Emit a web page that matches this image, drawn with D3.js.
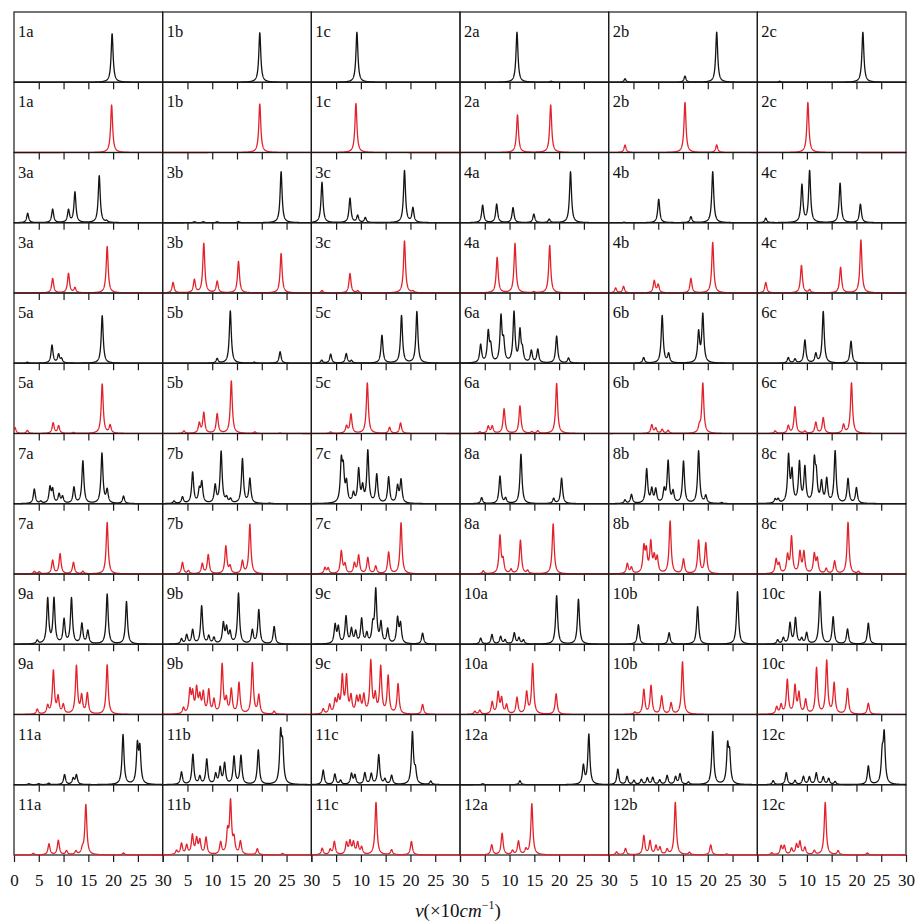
<!DOCTYPE html>
<html><head><meta charset="utf-8">
<script src="https://cdn.jsdelivr.net/npm/d3@7/dist/d3.min.js"></script>
<style>
html,body{margin:0;padding:0;background:#fff;}
svg{display:block;}
</style></head>
<body>
<svg id="chart" width="917" height="922"></svg>
<script>
// Panel labels, in grid reading order (6 columns x 6 row-pairs)
const panelLabels = ["1a","1b","1c","2a","2b","2c","3a","3b","3c","4a","4b","4c",
  "5a","5b","5c","6a","6b","6c","7a","7b","7c","8a","8b","8c",
  "9a","9b","9c","10a","10b","10c","11a","11b","11c","12a","12b","12c"];

// Peaks [position (x10 cm^-1), relative intensity] for the black (upper) spectra
const blackPeaks = [
 [[19.8,0.97]],
 [[19.6,0.99]],
 [[9.2,1.0]],
 [[11.5,1.0],[18.4,0.02]],
 [[3.3,0.07],[15.4,0.12],[21.8,1.0]],
 [[4.5,0.02],[21.3,1.0]],
 [[2.76,0.19],[7.8,0.27],[11.0,0.25],[12.3,0.61],[17.2,0.94],[18.7,0.03]],
 [[6.4,0.02],[8.2,0.02],[11.0,0.02],[15.3,0.02],[23.9,1.02]],
 [[2.15,0.81],[7.8,0.49],[9.35,0.14],[10.9,0.1],[18.8,1.04],[20.5,0.29]],
 [[4.57,0.35],[7.4,0.37],[10.7,0.3],[14.9,0.17],[18.0,0.07],[22.3,1.02]],
 [[3.1,0.01],[10.1,0.47],[16.6,0.12],[21.0,1.02]],
 [[1.7,0.09],[9.0,0.75],[10.55,1.03],[16.7,0.79],[20.8,0.37]],
 [[2.7,0.02],[7.67,0.36],[9.0,0.17],[9.6,0.08],[17.8,0.95]],
 [[11.0,0.09],[13.65,1.05],[18.5,0.02],[23.7,0.23]],
 [[2.1,0.06],[3.9,0.18],[7.05,0.19],[8.1,0.05],[14.25,0.56],[18.2,0.95],[21.3,1.03]],
 [[4.17,0.36],[5.7,0.6],[6.2,0.3],[8.27,0.9],[8.8,0.38],[10.9,1.0],[12.1,0.62],[12.6,0.22],[14.4,0.24],[15.7,0.27],[19.5,0.54],[21.9,0.1]],
 [[7.06,0.11],[10.8,0.95],[12.1,0.18],[18.15,0.6],[19.0,0.96]],
 [[6.25,0.11],[7.6,0.08],[9.6,0.46],[11.8,0.18],[13.3,1.03],[18.9,0.44]],
 [[4.1,0.29],[5.4,0.04],[7.26,0.31],[7.8,0.26],[9.1,0.18],[9.8,0.13],[12.1,0.32],[13.9,0.85],[17.75,1.0],[18.8,0.26],[22.1,0.15]],
 [[2.3,0.05],[4.0,0.13],[6.05,0.62],[7.4,0.25],[7.9,0.4],[10.6,0.35],[11.8,1.03],[12.9,0.1],[13.7,0.08],[16.1,0.89],[17.6,0.49],[21.6,0.01]],
 [[6.05,0.78],[6.45,0.6],[7.1,0.38],[8.5,0.18],[9.55,0.66],[10.35,0.3],[11.4,1.04],[13.2,0.57],[15.6,0.52],[17.4,0.33],[18.1,0.46]],
 [[4.37,0.12],[8.07,0.55],[9.2,0.1],[12.3,0.99],[18.9,0.1],[20.5,0.51]],
 [[3.3,0.07],[4.6,0.18],[7.67,0.68],[8.7,0.27],[9.5,0.27],[11.2,0.25],[12.0,0.83],[13.0,0.22],[15.1,0.84],[18.15,1.05],[19.6,0.15],[22.8,0.02]],
 [[3.6,0.08],[4.2,0.08],[6.3,0.93],[7.0,0.6],[8.5,0.8],[9.6,0.7],[11.5,0.8],[11.9,0.5],[12.95,0.4],[14.0,0.47],[15.7,1.04],[18.3,0.49],[20.0,0.31]],
 [[4.7,0.07],[6.8,0.9],[8.07,0.9],[10.1,0.48],[11.6,0.91],[13.7,0.4],[14.9,0.26],[18.8,1.0],[22.7,0.85]],
 [[3.8,0.1],[4.85,0.18],[6.05,0.28],[7.87,0.76],[9.3,0.15],[10.35,0.12],[12.25,0.4],[12.9,0.3],[13.6,0.22],[15.3,1.01],[18.1,0.27],[19.4,0.68],[22.5,0.35]],
 [[4.8,0.37],[5.45,0.32],[7.0,0.54],[8.1,0.28],[8.95,0.23],[10.15,0.49],[11.2,0.19],[12.4,0.33],[13.0,1.05],[14.05,0.4],[15.4,0.29],[17.4,0.5],[18.0,0.38],[22.45,0.22]],
 [[4.17,0.12],[6.45,0.19],[8.2,0.15],[9.1,0.08],[10.96,0.22],[11.9,0.12],[12.8,0.08],[19.5,0.97],[23.9,0.9]],
 [[6.0,0.39],[12.2,0.23],[17.95,0.75],[26.0,1.05]],
 [[4.1,0.08],[5.25,0.12],[6.6,0.41],[7.7,0.51],[8.95,0.1],[9.95,0.22],[12.65,1.05],[15.3,0.54],[18.2,0.3],[22.4,0.42]],
 [[3.0,0.02],[5.0,0.02],[7.0,0.03],[10.2,0.2],[11.95,0.12],[12.6,0.19],[22.0,1.0],[24.9,0.75],[25.4,0.68]],
 [[3.8,0.25],[6.1,0.6],[7.5,0.15],[8.9,0.5],[10.7,0.2],[11.6,0.32],[12.5,0.41],[14.4,0.55],[15.8,0.57],[19.3,0.69],[23.8,0.95],[24.2,0.7]],
 [[2.4,0.29],[4.75,0.21],[5.9,0.08],[8.1,0.21],[8.8,0.18],[10.8,0.23],[12.1,0.21],[13.6,0.59],[14.85,0.1],[16.2,0.18],[20.4,1.03],[21.0,0.25],[24.1,0.07]],
 [[4.6,0.02],[12.1,0.08],[24.9,0.37],[26.0,1.0]],
 [[1.85,0.31],[3.7,0.16],[5.1,0.08],[6.6,0.1],[7.8,0.13],[8.9,0.14],[10.3,0.09],[11.8,0.18],[13.5,0.15],[14.4,0.21],[16.1,0.05],[21.0,1.06],[24.0,0.72],[24.4,0.55]],
 [[3.2,0.08],[5.85,0.24],[7.6,0.08],[9.3,0.16],[10.5,0.15],[11.9,0.23],[13.3,0.15],[14.4,0.12],[15.7,0.06],[22.4,0.37],[25.2,0.55],[25.6,0.95]]
];

// Peaks for the red (lower) spectra
const redPeaks = [
 [[19.7,0.95]],
 [[19.6,0.97]],
 [[9.0,0.98]],
 [[11.6,0.75],[18.3,0.95]],
 [[3.3,0.15],[15.4,1.0],[21.8,0.15]],
 [[10.2,1.0]],
 [[7.8,0.29],[11.0,0.39],[12.3,0.1],[18.8,0.93]],
 [[2.1,0.21],[6.4,0.26],[8.3,0.99],[11.0,0.23],[15.3,0.63],[23.9,0.79]],
 [[2.15,0.05],[7.8,0.39],[9.35,0.04],[18.8,1.04],[20.5,0.03]],
 [[7.5,0.71],[11.1,0.99],[14.9,0.02],[18.1,0.95]],
 [[1.4,0.1],[3.0,0.13],[9.2,0.24],[10.0,0.16],[16.6,0.29],[21.0,1.01]],
 [[1.7,0.21],[8.9,0.55],[10.55,0.06],[16.8,0.51],[20.9,1.06]],
 [[0.2,0.12],[2.7,0.06],[7.9,0.21],[9.0,0.15],[12.0,0.02],[17.8,0.99],[19.4,0.16]],
 [[4.3,0.05],[7.4,0.2],[8.3,0.41],[11.0,0.39],[13.85,1.05],[18.6,0.03],[23.7,0.01]],
 [[3.9,0.03],[7.1,0.14],[8.0,0.38],[11.3,1.01],[15.8,0.12],[18.0,0.21]],
 [[4.0,0.03],[5.7,0.14],[6.5,0.14],[8.9,0.49],[12.1,0.55],[14.5,0.03],[15.7,0.05],[19.5,1.0]],
 [[8.7,0.17],[9.5,0.1],[10.8,0.08],[12.0,0.06],[18.3,0.12],[19.0,1.0]],
 [[3.6,0.05],[6.25,0.15],[7.6,0.53],[9.6,0.04],[11.8,0.22],[13.3,0.31],[17.4,0.17],[19.0,1.01]],
 [[4.1,0.05],[5.1,0.04],[7.8,0.27],[9.3,0.4],[12.0,0.23],[13.9,0.05],[18.8,1.03]],
 [[4.0,0.23],[5.2,0.06],[8.0,0.2],[9.2,0.38],[12.75,0.55],[13.6,0.14],[16.1,0.25],[17.6,0.99]],
 [[2.75,0.12],[3.4,0.11],[6.05,0.45],[6.8,0.18],[8.7,0.2],[9.55,0.36],[11.4,0.32],[13.0,0.15],[15.6,0.43],[18.1,1.02]],
 [[4.7,0.06],[8.07,0.75],[8.7,0.25],[10.3,0.08],[12.2,0.67],[13.65,0.06],[18.8,1.0]],
 [[3.77,0.2],[4.6,0.12],[7.1,0.5],[7.6,0.42],[8.5,0.6],[9.2,0.3],[9.8,0.3],[12.4,1.05],[15.1,0.29],[18.15,0.66],[19.6,0.61]],
 [[3.8,0.28],[4.4,0.18],[6.1,0.35],[6.9,0.72],[8.6,0.42],[9.4,0.42],[11.5,0.38],[12.1,0.28],[13.9,0.1],[15.6,0.25],[18.3,1.03],[20.4,0.04]],
 [[4.7,0.1],[6.8,0.16],[7.95,0.86],[8.9,0.33],[9.95,0.18],[12.6,0.96],[13.65,0.35],[14.8,0.41],[18.8,0.99]],
 [[4.2,0.12],[5.5,0.45],[6.05,0.38],[6.85,0.48],[7.5,0.32],[8.2,0.4],[9.3,0.46],[10.35,0.27],[12.0,0.98],[12.85,0.27],[13.85,0.48],[15.4,0.62],[18.1,1.02],[19.4,0.37],[22.5,0.06]],
 [[2.4,0.1],[3.7,0.18],[4.8,0.26],[5.45,0.3],[6.25,0.72],[7.1,0.72],[8.0,0.33],[9.15,0.3],[9.8,0.3],[10.6,0.35],[12.0,1.04],[12.9,0.35],[14.0,0.93],[15.5,0.75],[17.5,0.6],[22.45,0.2]],
 [[3.0,0.06],[4.0,0.08],[6.5,0.24],[7.7,0.42],[8.4,0.3],[9.4,0.18],[11.5,0.33],[13.45,0.43],[14.66,1.0],[19.4,0.41]],
 [[5.3,0.04],[7.1,0.49],[8.55,0.57],[10.7,0.36],[12.6,0.22],[14.9,1.05]],
 [[3.9,0.14],[4.8,0.18],[6.05,0.68],[7.6,0.55],[8.4,0.4],[9.75,0.28],[11.95,0.92],[14.0,1.06],[15.5,0.61],[18.2,0.51],[22.4,0.22]],
 [[3.9,0.03],[7.06,0.22],[8.95,0.29],[10.6,0.08],[12.5,0.07],[13.8,0.1],[14.5,1.0],[22.1,0.04]],
 [[2.8,0.08],[3.8,0.22],[4.85,0.18],[6.0,0.38],[6.85,0.3],[7.5,0.27],[8.75,0.34],[11.7,0.24],[13.1,0.42],[13.7,1.03],[14.4,0.28],[15.7,0.26],[19.1,0.12],[24.2,0.03]],
 [[2.2,0.13],[3.8,0.1],[4.65,0.26],[7.1,0.23],[7.8,0.25],[8.5,0.23],[9.35,0.23],[10.15,0.14],[13.05,1.05],[16.2,0.1],[20.2,0.27]],
 [[6.4,0.2],[8.5,0.43],[10.6,0.08],[11.8,0.27],[13.3,0.1],[14.5,1.02]],
 [[1.6,0.06],[3.4,0.13],[7.1,0.38],[8.35,0.27],[9.55,0.17],[10.35,0.14],[11.8,0.1],[13.45,1.05],[16.3,0.05],[20.6,0.2],[23.8,0.02]],
 [[2.9,0.04],[4.8,0.17],[5.45,0.17],[6.9,0.12],[7.9,0.19],[8.6,0.25],[9.6,0.14],[11.5,0.08],[13.7,1.05],[16.3,0.08],[22.2,0.04]]
];

const xTicks = [0,5,10,15,20,25,30];
const innerTicks = [5,10,15,20,25];

// ---------- layout ----------
const svg = d3.select("#chart");
const mLeft = 14, mTop = 12, mRight = 906, mBottom = 855;
const nCols = 6, nRows = 12;
const cellW = (mRight - mLeft) / nCols;
const cellH = (mBottom - mTop) / nRows;
const gamma = 0.24;

const x = d3.scaleLinear().domain([0, 30]).range([0, cellW]);
const y = d3.scaleLinear().domain([0, 1.405]).range([cellH, 0]);
const grid = d3.range(0, 30.0001, 0.02);

function spectrum(peaks) {
  return grid.map(v => [v, d3.sum(peaks, p => p[1] / (1 + ((v - p[0]) / gamma) ** 2))]);
}
const line = d3.line().x(d => x(d[0])).y(d => y(d[1]));

svg.append("defs").append("clipPath").attr("id", "cellclip")
  .append("rect").attr("x", 0).attr("y", -2).attr("width", cellW).attr("height", cellH + 4);

const panels = [];
panelLabels.forEach((lab, i) => {
  const pair = Math.floor(i / 6), col = i % 6;
  panels.push({lab, col, row: pair * 2, peaks: blackPeaks[i], color: "#141414"});
  panels.push({lab, col, row: pair * 2 + 1, peaks: redPeaks[i], color: "#e2222b"});
});

const g = svg.selectAll("g.panel").data(panels).join("g")
  .attr("class", "panel")
  .attr("transform", d => `translate(${mLeft + d.col * cellW},${mTop + d.row * cellH})`);

// frame
g.append("rect").attr("width", cellW).attr("height", cellH)
  .attr("fill", "none").attr("stroke", "#1a1a1a").attr("stroke-width", 1.2);

// ticks (pointing downwards from each panel bottom)
g.each(function(d) {
  const axis = d3.axisBottom(x).tickValues(d.row === nRows - 1 ? xTicks : innerTicks)
    .tickSize(7).tickSizeOuter(0);
  const ax = d3.select(this).append("g").attr("transform", `translate(0,${cellH})`).call(axis);
  ax.select(".domain").remove();
  ax.selectAll(".tick line").attr("stroke", "#1a1a1a").attr("stroke-width", 1.2);
  if (d.row === nRows - 1) {
    ax.selectAll(".tick text")
      .attr("y", 31).attr("dy", 0)
      .attr("font-family", "'Liberation Serif','Times New Roman',serif")
      .attr("font-size", 17).attr("fill", "#111")
      .text(v => (v === 0 && d.col > 0) ? "" : v);
  } else {
    ax.selectAll(".tick text").remove();
  }
});

// spectra
g.append("path")
  .attr("clip-path", "url(#cellclip)")
  .attr("d", d => line(spectrum(d.peaks)))
  .attr("fill", "none").attr("stroke", d => d.color).attr("stroke-width", 1.3)
  .attr("stroke-linejoin", "round");

// labels
g.append("text").attr("x", 4).attr("y", 25)
  .attr("font-family", "'Liberation Serif','Times New Roman',serif")
  .attr("font-size", 16.5).attr("fill", "#111")
  .text(d => d.lab);

// axis title
const title = svg.append("text").attr("x", 458).attr("y", 917)
  .attr("text-anchor", "middle")
  .attr("font-family", "'Liberation Serif','Times New Roman',serif")
  .attr("font-size", 19).attr("fill", "#111");
title.append("tspan").attr("font-style", "italic").text("v");
title.append("tspan").text("(×10");
title.append("tspan").attr("font-style", "italic").text("cm");
title.append("tspan").attr("font-size", 12).attr("dy", -8).text("−1");
title.append("tspan").attr("dy", 8).text(")");
</script>
</body></html>
